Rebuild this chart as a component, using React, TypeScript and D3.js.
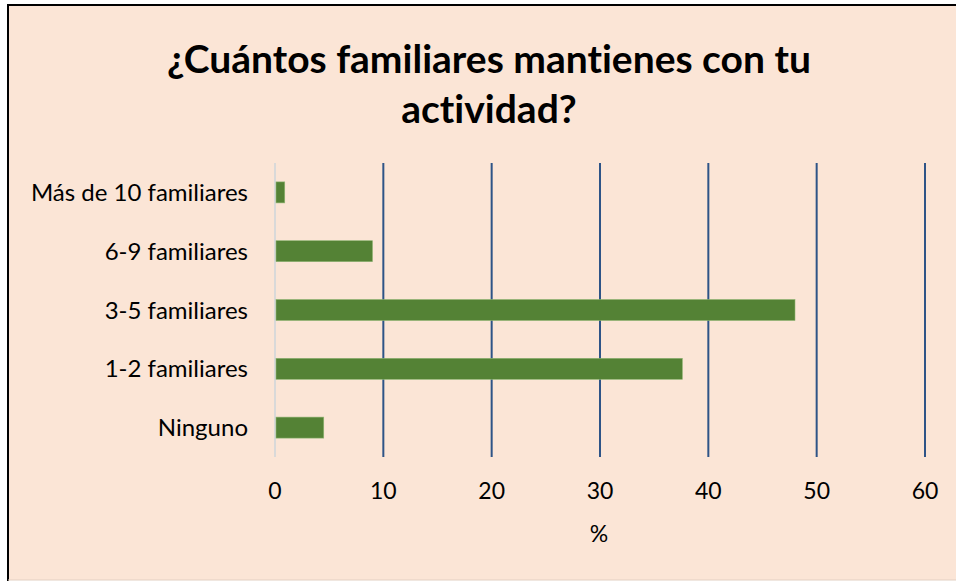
import { useEffect, useRef } from 'react';
import * as d3 from 'd3';

// categories top to bottom as drawn
const categories = ['Más de 10 familiares', '6-9 familiares', '3-5 familiares', '1-2 familiares', 'Ninguno'];
const values = [0.9, 9.0, 48.0, 37.6, 4.5];
const xTicks = [0, 10, 20, 30, 40, 50, 60];
const titleLines = ['¿Cuántos familiares mantienes con tu', 'actividad?'];
const axisTitle = '%';

const FONT = 'Lato, "Open Sans", sans-serif';

const App = () => {
  const svgRef = useRef<SVGSVGElement>(null);

  useEffect(() => {
    if (!svgRef.current) return;
    const svg = d3.select(svgRef.current);
    svg.selectAll('*').remove();

    const width = 956;
    const height = 581;

    // background + frame
    svg.append('rect')
      .attr('x', 8).attr('y', 5)
      .attr('width', width - 8).attr('height', height - 6)
      .attr('fill', '#FBE5D6');
    svg.append('line')
      .attr('x1', 8).attr('x2', 8).attr('y1', 4).attr('y2', 581)
      .attr('stroke', '#000').attr('stroke-width', 2);
    svg.append('line')
      .attr('x1', 7).attr('x2', 956).attr('y1', 5).attr('y2', 5)
      .attr('stroke', '#000').attr('stroke-width', 2);
    svg.append('line')
      .attr('x1', 8).attr('x2', 956).attr('y1', 580).attr('y2', 580)
      .attr('stroke', '#E2CFC2').attr('stroke-width', 1);

    // title
    titleLines.forEach((t, i) => {
      svg.append('text')
        .attr('x', 489)
        .attr('y', 73 + i * 50)
        .attr('text-anchor', 'middle')
        .attr('font-family', FONT)
        .attr('font-weight', 'bold')
        .attr('font-size', 39)
        .style('font-variant-ligatures', 'none')
        .attr('fill', '#000')
        .text(t);
    });

    const x = d3.scaleLinear().domain([0, 60]).range([275, 925]);
    const y = d3.scaleBand<string>()
      .domain(categories)
      .range([163, 457])
      .paddingInner(0.643)
      .paddingOuter(0.3215);

    // gridlines
    svg.selectAll('.grid')
      .data(xTicks.filter(d => d > 0))
      .enter()
      .append('line')
      .attr('x1', d => x(d)).attr('x2', d => x(d))
      .attr('y1', 163).attr('y2', 457)
      .attr('stroke', '#2E5487')
      .attr('stroke-width', 2);

    // zero axis
    svg.append('line')
      .attr('x1', x(0)).attr('x2', x(0))
      .attr('y1', 163).attr('y2', 457)
      .attr('stroke', '#D9D9D9')
      .attr('stroke-width', 2);

    // bars
    svg.selectAll('.bar')
      .data(values)
      .enter()
      .append('rect')
      .attr('x', x(0) + 1)
      .attr('y', (_, i) => y(categories[i]) || 0)
      .attr('width', d => x(d) - x(0) - 1)
      .attr('height', y.bandwidth())
      .attr('fill', '#548235')
      .attr('stroke', '#8FB573')
      .attr('stroke-width', 0.6);

    // category labels
    svg.selectAll('.cat')
      .data(categories)
      .enter()
      .append('text')
      .attr('x', 248)
      .attr('y', d => (y(d) || 0) + y.bandwidth() / 2)
      .attr('dy', '0.36em')
      .attr('text-anchor', 'end')
      .attr('font-family', FONT)
      .attr('font-size', 24)
      .attr('fill', '#000')
      .text(d => d);

    // tick labels
    svg.selectAll('.tick')
      .data(xTicks)
      .enter()
      .append('text')
      .attr('x', d => x(d))
      .attr('y', 499)
      .attr('text-anchor', 'middle')
      .attr('font-family', FONT)
      .attr('font-size', 23)
      .attr('fill', '#000')
      .text(d => String(d));

    // axis title
    svg.append('text')
      .attr('x', 599)
      .attr('y', 542)
      .attr('text-anchor', 'middle')
      .attr('font-family', FONT)
      .attr('font-size', 23)
      .attr('fill', '#000')
      .text(axisTitle);
  }, []);

  return (
    <>
      <style>{'body{margin:0}'}</style>
      <svg ref={svgRef} width={956} height={581} style={{ display: 'block' }} />
    </>
  );
};

export default App;
